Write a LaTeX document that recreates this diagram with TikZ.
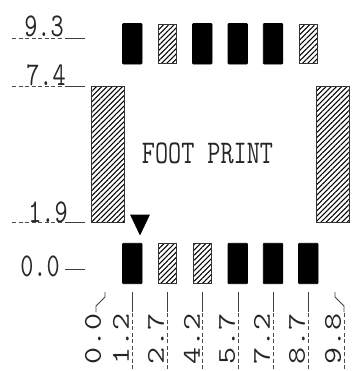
\documentclass[tikz,border=0pt]{standalone}
\usepackage{fontspec}
\usetikzlibrary{patterns.meta}
\tikzset{
  padblack/.style={draw, fill=black, rounded corners=0.5pt, minimum width=0.39cm, minimum height=0.81cm, inner sep=0pt},
  padhatch/.style={draw=black!80, line width=0.5pt, pattern={Lines[angle=45, distance=2.1pt, line width=0.6pt]}, minimum width=0.36cm, minimum height=0.79cm, inner sep=0pt},
  padside/.style={padhatch, minimum width=0.66cm, minimum height=2.72cm},
  dimtext/.style={font=\ttfamily\fontsize{14.5}{14.5}\selectfont, yscale=1.3, transform shape, inner sep=0pt, text=black!85},
  dimdash/.style={black!70, line width=0.5pt, dash pattern=on 2.4pt off 1.3pt},
  dimsolid/.style={black!75, line width=0.55pt}
}
\begin{document}
\begin{tikzpicture}[x=0.02cm, y=-0.02cm]
\useasboundingbox (0,0) rectangle (351,371);
% Top pads
\node[padblack] (t1) at (132.3,43.8) {};
\node[padhatch] (t2) at (167,43.8) {};
\node[padblack] (t3) at (202.3,43.8) {};
\node[padblack] (t4) at (237.8,43.8) {};
\node[padblack] (t5) at (273,43.8) {};
\node[padhatch] (t6) at (308.3,43.8) {};

% Side pads
\node[padside] (sl) at (107.5,154) {};
\node[padside] (sr) at (332.5,154) {};

% Bottom pads
\node[padblack] (b1) at (132.3,263.5) {};
\node[padhatch] (b2) at (167,263.5) {};
\node[padhatch] (b3) at (202.5,263.5) {};
\node[padblack] (b4) at (237.8,263.5) {};
\node[padblack] (b5) at (273,263.5) {};
\node[padblack] (b6) at (308.3,263.5) {};

% Pin 1 mark
\fill (130,214.5) -- (150,214.5) -- (140,235.5) -- cycle;

\node[dimtext] (title) at (207.5,153) {FOOT PRINT};

% Left dimensions
\node[dimtext] (v93) at (44,26) {9.3};
\node[dimtext] (v74) at (46,75) {7.4};
\node[dimtext] (v19) at (48,212) {1.9};
\node[dimtext] (v00) at (40,266) {0.0};
\draw[dimdash] (12,38.5) -- (63,38.5);
\draw[dimdash] (12,86) -- (63,86);
\draw[dimdash] (12,222) -- (63,222);
\draw[dimsolid] (65,38.5) -- (85,38.5);
\draw[dimsolid] (65,86) -- (85,86);
\draw[dimsolid] (65,222) -- (85,222);
\draw[dimsolid] (65,269) -- (85,269);

% Bottom dimensions
\node[dimtext, rotate=90] (h00) at (93,339) {0.0};
\node[dimtext, rotate=90] (h12) at (121,339) {1.2};
\node[dimtext, rotate=90] (h27) at (156,339) {2.7};
\node[dimtext, rotate=90] (h42) at (192,339) {4.2};
\node[dimtext, rotate=90] (h57) at (227,339) {5.7};
\node[dimtext, rotate=90] (h72) at (262,339) {7.2};
\node[dimtext, rotate=90] (h87) at (297,339) {8.7};
\node[dimtext, rotate=90] (h98) at (333,339) {9.8};
\draw[dimsolid] (105,292) -- (105,297) -- (96,306) -- (96,312);
\draw[dimsolid] (132.5,292) -- (132.5,312);
\draw[dimsolid] (167.5,292) -- (167.5,312);
\draw[dimsolid] (202.5,292) -- (202.5,312);
\draw[dimsolid] (238,292) -- (238,312);
\draw[dimsolid] (273,292) -- (273,312);
\draw[dimsolid] (308,292) -- (308,312);
\draw[dimsolid] (335,292) -- (335,297) -- (344,306) -- (344,312);
\draw[dimdash] (132.5,313) -- (132.5,369);
\draw[dimdash] (167.5,313) -- (167.5,369);
\draw[dimdash] (202.5,313) -- (202.5,369);
\draw[dimdash] (238,313) -- (238,369);
\draw[dimdash] (273,313) -- (273,369);
\draw[dimdash] (308,313) -- (308,369);
\draw[dimdash] (344,313) -- (344,369);
\end{tikzpicture}
\end{document}
